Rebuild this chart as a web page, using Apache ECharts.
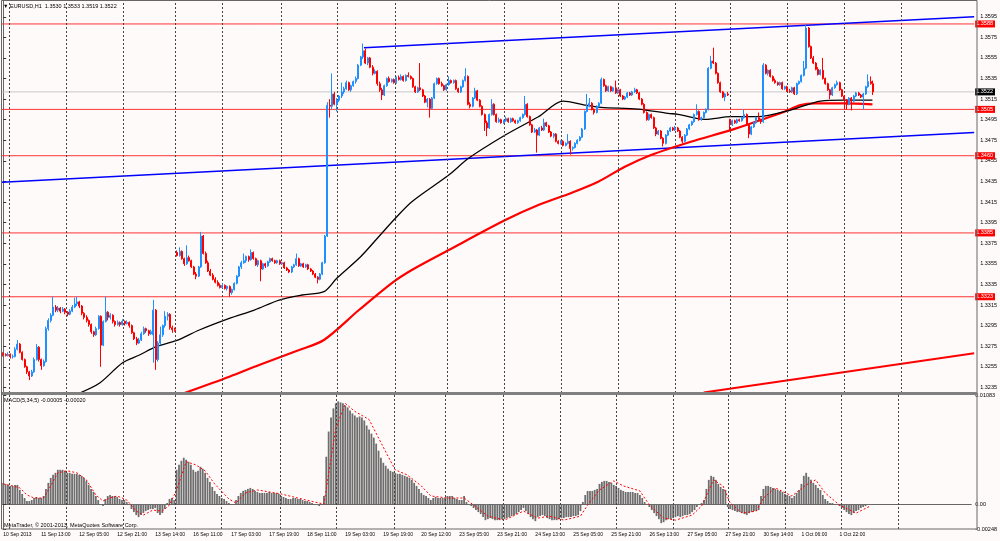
<!DOCTYPE html>
<html>
<head>
<meta charset="utf-8">
<script src="https://cdn.jsdelivr.net/npm/echarts@6/dist/echarts.min.js"></script>
<style>
html, body { margin: 0; padding: 0; background: #fffafa; }
#chart { width: 1000px; height: 541px; }
</style>
</head>
<body>
<div id="chart"></div>
<script>
// EURUSD H1, prices in pips above 1.3000 : [open, high, low, close]
var ohlcA = [
  [268,269,265,267],[267,268,265,266],[266,269,265,267],[267,268,263,265],[265,267,263,265],
  [265,274,264,272],[272,281,271,277],[277,278,268,269],[269,270,261,262],[262,263,254,255],
  [255,256,248,250],[250,251,242,246],[246,252,245,250],[250,264,249,262],[262,277,261,274],
  [274,275,260,262],[262,263,252,256],[256,262,255,260],[260,294,259,292],[292,302,290,300],
  [300,307,298,305],[305,323,304,313],[313,315,308,310],[310,314,308,312],[312,313,307,309],
  [309,313,308,311],[311,312,306,308],[308,309,304,306],[306,311,305,309],[309,315,308,313],
  [313,322,312,316],[316,323,314,318],[318,319,312,314],[314,315,305,307],[307,308,301,303],
  [303,305,298,300],[300,301,294,296],[296,297,287,289],[289,290,284,286],[286,294,285,292],
  [292,305,291,304],[304,305,255,276],[276,300,275,299],[299,323,298,308],[308,309,300,303],
  [303,307,301,305],[305,306,297,299],[299,300,294,296],[296,300,295,298],[298,299,294,296],
  [296,301,295,299],[299,300,295,297],[297,300,296,298],[298,299,293,295],[295,296,287,288],
  [288,289,281,282],[282,284,276,278],[278,283,277,281],[281,289,280,287],[287,294,286,292],
  [292,293,288,290],[290,291,285,287],[287,291,286,289],[286,320,259,310],[310,311,252,262],
  [262,280,260,278],[278,294,276,286],[286,296,284,295],[295,309,293,304],[304,308,300,306],
  [306,307,291,293],[293,295,288,291],[291,293,289,290]
];
var ohlcB = [
  [366,368,362,363],[363,371,362,367],[367,368,359,360],[360,361,353,355],[355,373,354,361],
  [361,363,357,358],[358,359,351,352],[352,353,344,345],[345,347,340,343],[343,353,342,352],
  [352,386,351,382],[382,383,364,365],[365,367,355,356],[356,358,347,348],[348,350,343,344],
  [344,346,339,340],[340,342,336,337],[337,339,333,334],[334,336,331,332],[332,336,331,334],
  [334,335,330,331],[331,334,329,333],[333,334,323,327],[327,331,325,330],[330,337,329,336],
  [336,344,335,343],[343,353,342,352],[352,358,350,356],[356,365,355,358],[358,363,356,362],
  [362,363,357,359],[359,369,358,366],[366,367,359,360],[360,361,353,354],[354,359,352,358],
  [358,359,338,350],[350,356,349,355],[355,356,351,353],[353,358,352,357],[357,361,356,360],
  [360,361,357,358],[358,359,355,356],[356,359,355,358],[358,359,354,355],[355,357,354,356],
  [356,357,350,351],[351,352,348,349],[349,350,346,347],[347,353,346,352],[352,355,351,354],
  [354,365,353,360],[360,361,352,353],[353,356,352,355],[355,356,351,352],[352,355,351,354],
  [354,355,349,350],[350,351,347,348],[348,349,344,345],[345,346,341,342],[342,343,336,340],
  [340,346,339,345],[345,357,344,356],[356,383,355,382],[382,512,381,509]
];
var ohlcC = [
  [509,515,497,508],[508,540,505,520],[520,522,509,510],[510,516,503,514],[514,519,512,518],
  [518,531,516,522],[522,527,520,525],[525,533,524,531],[531,532,523,524],[524,529,522,528],
  [528,533,527,532],[532,537,530,535],[535,549,534,548],[548,557,547,556],[556,569,554,562],
  [562,564,549,550],[550,556,548,555],[555,556,545,546],[546,548,538,540],[540,544,539,542],
  [542,543,528,530],[530,532,522,524],[524,526,514,519],[519,529,518,528],[528,536,527,535],
  [535,537,531,532],[532,535,531,534],[534,535,530,531],[531,537,530,536],[536,538,533,534],
  [534,539,533,537],[537,538,532,533],[533,539,532,538],[538,541,536,537],[537,538,534,535],
  [535,536,526,527],[527,528,521,522],[522,527,521,526],[526,550,523,524],[524,525,517,518],
  [518,519,511,512],[512,516,507,515],[515,516,497,506],[506,517,505,516],[516,531,515,530],
  [530,536,529,535],[535,536,529,530],[530,532,527,528],[528,529,523,524],[524,530,523,529],
  [529,537,528,533],[533,534,530,531],[531,534,530,533],[533,534,524,525],[525,526,521,522],
  [522,528,521,527],[527,534,526,533],[533,545,532,537],[537,538,509,510],[510,512,506,508],
  [508,517,507,516],[516,526,515,523],[523,524,513,514],[514,515,507,508],[508,509,499,500],
  [500,501,484,492],[492,494,479,487],[487,501,486,500]
];
var ohlcD = [
  [500,515,499,510],[510,511,499,500],[500,501,492,493],[493,497,492,495],[495,496,491,492],
  [492,495,491,494],[494,498,493,496],[496,497,492,493],[493,497,492,496],[496,497,493,494],
  [494,495,491,492],[492,495,491,494],[494,498,493,497],[497,501,496,500],[500,518,499,510],
  [510,511,497,498],[498,499,489,490],[490,491,482,483],[483,487,482,485],[485,486,463,480],
  [480,488,479,487],[487,489,484,485],[485,496,484,492],[492,493,488,489],[489,490,482,483],
  [483,484,478,479],[479,482,477,481],[481,482,473,474],[474,475,471,472],[472,475,471,474],
  [474,475,469,470],[470,473,469,472],[472,481,471,474],[474,475,461,467],[467,469,465,468],
  [468,473,467,472],[472,476,471,475],[475,479,474,478],[478,487,477,486],[486,504,485,503],
  [503,520,502,508],[508,516,507,511],[511,512,504,505],[505,506,500,502],[502,509,501,508],
  [508,512,507,511],[511,536,510,534],[534,535,527,528],[528,529,522,523],[523,528,522,527],
  [527,528,522,523],[523,527,522,526],[526,533,520,521],[521,525,520,524],[524,525,517,518],
  [518,519,514,515],[515,518,514,517],[517,522,516,521],[521,522,518,519],[519,523,518,522],
  [522,526,521,524],[524,525,520,521],[521,522,514,515],[515,516,509,510],[510,511,501,502],
  [502,503,494,495],[495,501,494,500],[500,501,496,497],[497,498,486,487],[487,488,479,481],
  [481,485,480,484],[484,485,476,477]
];
var ohlcE = [
  [477,478,469,472],[472,481,471,480],[480,485,479,484],[484,488,483,487],[487,488,484,485],
  [485,489,484,487],[487,488,483,484],[484,485,477,478],[478,479,472,474],[474,481,473,480],
  [480,487,479,486],[486,491,485,490],[490,494,489,493],[493,501,492,500],[500,510,499,503],
  [503,504,494,495],[495,498,494,497],[497,503,496,502],[502,506,501,505],[505,546,504,545],
  [545,557,544,552],[552,565,549,550],[550,551,539,540],[540,541,530,531],[531,532,521,522],
  [522,523,516,517],[517,521,513,520],[520,522,518,519],[495,496,484,490],[490,495,489,494],
  [494,495,491,492],[492,496,491,495],[495,496,493,494],[494,498,493,497],[497,505,496,500],
  [500,501,489,490],[490,491,477,481],[481,489,480,488],[488,493,487,492],[492,498,491,497],
  [497,502,494,495],[495,496,491,493],[493,550,492,548],[548,549,539,540],[540,544,538,543],
  [543,544,536,537],[537,538,532,533],[533,535,530,531],[531,532,528,529],[529,532,528,531],
  [531,532,524,525],[525,528,524,527],[527,528,522,523],[523,525,521,522],[522,527,521,526],
  [526,527,519,520],[520,531,519,530],[530,533,529,532],[532,539,531,538],[538,552,537,545],
  [545,587,544,584],[584,585,565,566],[566,567,554,555],[555,557,549,550],[550,551,543,544],
  [544,546,538,539],[539,544,538,543],[543,555,534,535],[535,536,529,530],[530,531,523,524],
  [524,525,515,519],[519,527,518,526],[526,530,525,529],[529,533,528,531],[531,532,523,524],
  [524,525,517,518],[518,519,505,514],[514,515,505,510],[510,517,509,516],[516,517,504,513],
  [513,519,512,518],[518,522,517,521],[521,522,518,519],[519,520,516,517],[517,521,505,520],
  [520,528,519,527],[527,539,526,532],[532,537,529,530],[530,533,519,522]
];

// MACD(5,34,5) histogram, in pips, one per bar
var macdHist = [
  21,20,19,18,18,19,19,14,10,6, 3,3,4,6,7,6,6,8,15,21, 26,29,31,34,34,34,33,31,31,30,
  30,30,29,28,26,23,19,15,12,8, 4,0,-2,5,8,9,8,8,7,5, 4,4,2,-1,-5,-8,-11,-13,-11,-9,
  -7,-6,-5,-5,-4,-9,-11,-9,-5,1, 5,6,4,34,39,43,46,44,42,39, 34,32,33,37,35,31,26,22,17,13,
  10,8,6,5,3,1,-1,0,4,8, 11,13,14,15,16,15,13,12,11,11, 11,11,12,11,11,11,10,8,7,6,
  5,5,6,6,5,5,4,3,3,2, 1,0,-1,-2,-1,8,47,72,86,95, 100,102,101,100,98,96,93,90,88,86,
  87,86,83,78,74,70,66,60,53,46, 41,38,35,33,32,31,30,30,29,28, 27,26,24,21,18,15,11,9,8,6,
  4,6,7,6,6,6,6,8,8,8, 6,5,4,4,8,2,-1,-2,-4,-6, -8,-10,-13,-16,-15,-14,-15,-16,-16,-16,
  -15,-15,-14,-13,-12,-11,-10,-8,-6,-4, -7,-10,-13,-15,-17,-13,-12,-11,-12,-14, -15,-16,-16,-16,-15,-14,-14,-13,-13,-13,
  -12,-12,-11,-7,2,9,13,13,13,14, 15,20,22,23,23,22,21,19,18,16, 14,13,12,12,12,12,11,11,9,6,
  2,-1,-3,-6,-9,-12,-15,-19,-18,-16, -15,-15,-14,-13,-12,-13,-12,-11,-11,-10, -8,-6,-3,-1,1,4,15,24,28,27,
  24,20,17,15,14,-3,-5,-6,-7,-8, -8,-9,-10,-11,-9,-8,-7,-7,-6,8, 15,18,18,17,16,15,14,13,12,10,
  9,8,6,8,11,14,20,28,31,27, 24,21,19,16,14,9,5,3,1,1, 0,-1,-2,-4,-6,-8,-10,-11,-9,-7,
  -6,-4,-3,-2,-1,-0.5
];
// signal line read at [bar, pips]
var macdSignal = [
  [0,20],[4,18],[7,16],[10,9],[13,6],[17,6],[20,18],[23,31],[27,33],[31,31],[35,24],[39,9],
  [42,3],[45,6],[48,8],[52,4],[56,-7],[59,-11],[63,-6],[67,-7],[70,-1],[73,14],[77,42],[81,39],
  [85,33],[89,20],[95,5],[98,1],[102,11],[107,14],[117,10],[124,6],[131,2],[135,0],[137,30],
  [140,75],[144,100],[148,92],[154,84],[159,61],[165,34],[170,29],[176,18],[180,8],[187,6],
  [194,6],[198,-1],[204,-12],[211,-16],[219,-7],[225,-14],[230,-12],[236,-16],[243,-12],
  [246,-1],[251,14],[257,23],[261,18],[268,13],[272,-1],[278,-14],[283,-16],[290,-11],[294,-2],
  [299,24],[303,18],[306,1],[311,-9],[317,-7],[320,6],[325,16],[332,8],[338,19],[342,24],
  [346,11],[352,-1],[359,-9],[365,-2]
];

// moving averages read at [bar, price]
var blackMA = [
  [32.1,1.32295],[40.5,1.32392],[50.1,1.32589],[57.2,1.32664],[64.2,1.32745],[72.6,1.32803],
  [82.3,1.32907],[94.9,1.33020],[105.4,1.33101],[115.8,1.33198],[125.4,1.33247],[134.6,1.33279],
  [140.1,1.33412],[150,1.33619],[157.6,1.33813],[164.6,1.33992],[171.5,1.34153],[187,1.34412],
  [195.3,1.34575],[210.7,1.34801],[224.6,1.34979],[235,1.35131],[244.1,1.35092],[250.9,1.3507],
  [266.4,1.35053],[279,1.35012],[283.2,1.35002],[294.4,1.34953],[305.5,1.34979],[316.7,1.34979],
  [330.5,1.35044],[343,1.35131],[352.9,1.35141],[364.8,1.35141]
];
var redMA = [
  [76.1,1.32295],[94.9,1.32453],[107.4,1.32567],[124.2,1.32713],[134.6,1.3281],[149.3,1.33101],
  [163.1,1.33363],[171.5,1.3349],[187,1.33684],[210.7,1.33975],[224.6,1.34121],[238.4,1.34238],
  [249.7,1.34347],[260.9,1.34493],[271.9,1.34607],[288.6,1.34736],[305.4,1.34849],[316.7,1.34937],
  [327.8,1.35027],[334.6,1.35092],[340.4,1.35109],[352.9,1.35109],[364.8,1.35099]
];

// trend lines [bar, price]
var channelTop = [[151.4,1.35649],[407.5,1.3595]];
var channelLow = [[-0.5,1.34343],[407.5,1.34825]];
var redTrend = [[294,1.3230],[407.5,1.32681]];

var levels = [1.3588, 1.3505, 1.3460, 1.3385, 1.3323];
var bidPrice = 1.3522;
var priceTicks = [1.3235,1.3255,1.3275,1.3295,1.3315,1.3335,1.3355,1.3375,1.3395,1.3415,
  1.3435,1.3455,1.3475,1.3495,1.3515,1.3535,1.3555,1.3575,1.3595];
var macdTicks = [-0.00248, 0, 0.01083];
var dayLines = [2.4,26.6,50.5,72.3,91.8,116.5,140.2,164.4,186.2,210.3,234.3,258.2,282.1,305.1,329.2,352.9,376.9];
var timeLabels = ['10 Sep 2013','11 Sep 13:00','12 Sep 05:00','12 Sep 21:00','13 Sep 14:00',
  '16 Sep 11:00','17 Sep 03:00','17 Sep 19:00','18 Sep 11:00','19 Sep 03:00','19 Sep 19:00',
  '20 Sep 12:00','23 Sep 05:00','23 Sep 21:00','24 Sep 13:00','25 Sep 05:00','25 Sep 21:00',
  '26 Sep 13:00','27 Sep 05:00','27 Sep 21:00','30 Sep 14:00','1 Oct 06:00','1 Oct 22:00'];

var SLOTS = 408;
var FONT = 'Liberation Sans, Arial, sans-serif';

var cats = [];
for (var i = 0; i < SLOTS; i++) cats.push(String(i));

// echarts candlestick order: [open, close, low, high]
var candles = ohlcA.concat(ohlcB, ohlcC, ohlcD, ohlcE).map(function (r) {
  return [1.3 + r[0] / 1e4, 1.3 + r[3] / 1e4, 1.3 + r[2] / 1e4, 1.3 + r[1] / 1e4];
});

function dayMarks() {
  return {
    silent: true, symbol: 'none', animation: false, precision: 2,
    label: { show: false },
    lineStyle: { color: '#444', width: 1, type: [2, 2] },
    data: dayLines.map(function (v) { return { xAxis: v }; })
  };
}

// one horizontal line per price level, with its tag on the price scale
function levelSeries(v, lineColor, tagBg) {
  return {
    type: 'line', xAxisIndex: 2, yAxisIndex: 0, symbol: 'none', silent: true, z: 2,
    data: [[-0.5, v], [SLOTS - 0.5, v]],
    lineStyle: { color: lineColor, width: 1 },
    endLabel: {
      show: true, distance: 1, fontSize: 5.5, fontFamily: FONT,
      color: '#fff', backgroundColor: tagBg, padding: [1, 2, 0, 1],
      formatter: function () { return v.toFixed(4); }
    }
  };
}

var chart = echarts.init(document.getElementById('chart'));
var series = [
  {
    type: 'line', xAxisIndex: 2, yAxisIndex: 0, data: channelLow, symbol: 'none',
    lineStyle: { color: '#0000ff', width: 1.5 }, z: 3,
    markLine: dayMarks()
  },
  {
    type: 'line', xAxisIndex: 2, yAxisIndex: 0, data: channelTop, symbol: 'none',
    lineStyle: { color: '#0000ff', width: 1.5 }, z: 3
  },
  {
    type: 'line', xAxisIndex: 2, yAxisIndex: 0, data: redTrend, symbol: 'none',
    lineStyle: { color: '#ff0000', width: 2 }, z: 3
  },
  {
    type: 'line', xAxisIndex: 2, yAxisIndex: 0, data: redMA, symbol: 'none', smooth: 0.3,
    lineStyle: { color: '#ff0000', width: 2.2 }, z: 4
  },
  {
    type: 'line', xAxisIndex: 2, yAxisIndex: 0, data: blackMA, symbol: 'none', smooth: 0.3,
    lineStyle: { color: '#000', width: 1.3 }, z: 4
  },
  {
    type: 'candlestick', xAxisIndex: 0, yAxisIndex: 0, data: candles, barWidth: 1.5, z: 5,
    itemStyle: {
      color: '#1e90ff', color0: '#ff0000',
      borderColor: '#1e90ff', borderColor0: '#ff0000', borderWidth: 1
    }
  },
  {
    type: 'bar', xAxisIndex: 1, yAxisIndex: 1, barWidth: 1.8,
    data: macdHist.map(function (v) { return v / 1e4; }),
    itemStyle: { color: '#6e6e6e' }
  },
  {
    type: 'line', xAxisIndex: 3, yAxisIndex: 1, symbol: 'none',
    data: macdSignal.map(function (p) { return [p[0], p[1] / 1e4]; }),
    lineStyle: { color: '#ff0000', width: 1, type: [2, 2] },
    markLine: dayMarks()
  }
];
levels.forEach(function (v) { series.push(levelSeries(v, '#ff3333', '#ff0000')); });
series.push(levelSeries(bidPrice, '#c8c8c8', '#000'));

var option = {
  backgroundColor: '#fffafa',
  animation: false,
  textStyle: { fontFamily: FONT },
  grid: [
    { left: 2, right: 23, top: 1, height: 392 },
    { left: 2, right: 23, top: 395, height: 134 }
  ],
  xAxis: [
    { type: 'category', gridIndex: 0, data: cats, boundaryGap: true, show: false },
    {
      type: 'category', gridIndex: 1, data: cats, boundaryGap: true,
      axisLine: { show: true, lineStyle: { color: '#666' } },
      axisTick: { show: false },
      axisLabel: {
        interval: function (idx) { return idx % 16 === 0 && idx / 16 < timeLabels.length; },
        formatter: function (v, idx) { return timeLabels[idx / 16]; },
        align: 'left', fontSize: 5, color: '#000', margin: 3, fontFamily: FONT
      },
      splitLine: { show: false }
    },
    { type: 'value', gridIndex: 0, min: -0.5, max: SLOTS - 0.5, show: false },
    { type: 'value', gridIndex: 1, min: -0.5, max: SLOTS - 0.5, show: false }
  ],
  yAxis: [
    {
      type: 'value', gridIndex: 0, position: 'right', min: 1.32295, max: 1.36103, scale: true,
      axisLine: { show: true, lineStyle: { color: '#666' } },
      axisTick: { show: true, length: 3, customValues: priceTicks, lineStyle: { color: '#333' } },
      axisLabel: {
        customValues: priceTicks, margin: 6, fontSize: 5.5, color: '#000', fontFamily: FONT,
        formatter: function (v) { return v.toFixed(4); }
      },
      splitLine: { show: false }
    },
    {
      type: 'value', gridIndex: 1, position: 'right', min: -0.00248, max: 0.01083,
      axisLine: { show: true, lineStyle: { color: '#666' } },
      axisTick: { show: true, length: 3, customValues: macdTicks, lineStyle: { color: '#333' } },
      axisLabel: {
        customValues: macdTicks, margin: 4, fontSize: 5.5, color: '#000', fontFamily: FONT,
        formatter: function (v) { return v === 0 ? '0.00' : v.toFixed(5); }
      },
      splitLine: { show: false }
    }
  ],
  series: series,
  graphic: [
    { type: 'rect', silent: true, shape: { x: 1.5, y: 0.5, width: 975.5, height: 528.5 },
      style: { fill: 'none', stroke: '#666', lineWidth: 1 }, z: 10 },
    { type: 'line', silent: true, shape: { x1: 2, y1: 393.5, x2: 977, y2: 393.5 },
      style: { stroke: '#808080', lineWidth: 3 }, z: 10 },
    { type: 'text', left: 3, top: 3, z: 11,
      style: { text: '\u25BC EURUSD,H1  1.3530 1.3533 1.3519 1.3522', fontSize: 5.5, fill: '#000', font: '5.5px ' + FONT } },
    { type: 'text', left: 4, top: 397, z: 11,
      style: { text: 'MACD(5,34,5) -0.00005 -0.00020', fontSize: 5.5, fill: '#000', font: '5.5px ' + FONT } },
    { type: 'text', left: 4, top: 522, z: 11,
      style: { text: 'MetaTrader, \u00A9 2001-2013, MetaQuotes Software Corp.', fontSize: 5.5, fill: '#000', font: '5.5px ' + FONT } }
  ]
};
chart.setOption(option);
</script>
</body>
</html>
